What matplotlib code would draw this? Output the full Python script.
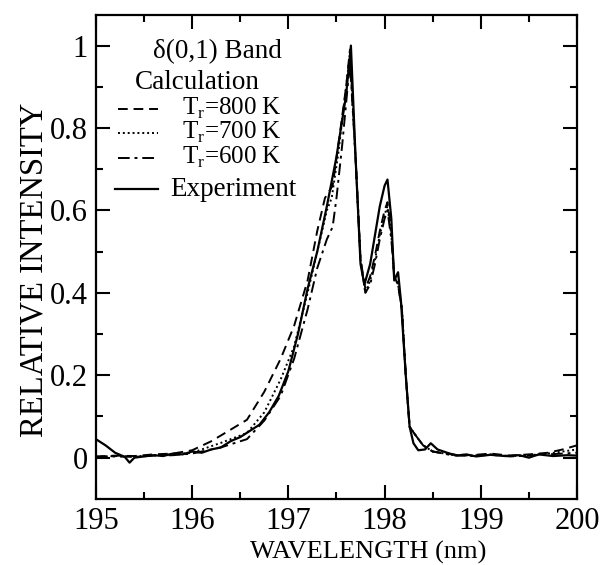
import numpy as np
import matplotlib.pyplot as plt
from matplotlib.lines import Line2D

plt.rcParams['font.family'] = ['Liberation Serif', 'DejaVu Serif']
plt.rcParams['mathtext.fontset'] = 'custom'
plt.rcParams['mathtext.rm'] = 'Liberation Serif'

# ---- experiment (solid) ----
wl_exp = [195.0, 195.1, 195.2, 195.3, 195.35, 195.4, 195.5, 195.6, 195.7, 195.8, 195.9,
          196.0, 196.1, 196.2, 196.3, 196.4, 196.5, 196.6, 196.7, 196.8, 196.9,
          197.0, 197.1, 197.2, 197.3, 197.4, 197.5, 197.6, 197.65, 197.7, 197.75,
          197.79, 197.85, 197.9, 197.95, 198.0, 198.03, 198.07, 198.1, 198.14, 198.17,
          198.22, 198.26, 198.3, 198.35, 198.42, 198.48, 198.55, 198.65, 198.75, 198.85,
          198.95, 199.1, 199.25, 199.4, 199.5, 199.6, 199.75, 199.9, 200.0]
int_exp = [0.045, 0.03, 0.012, 0.002, -0.012, 0.0, 0.003, 0.006, 0.004, 0.01, 0.008,
           0.015, 0.012, 0.02, 0.025, 0.04, 0.05, 0.065, 0.08, 0.11, 0.15,
           0.21, 0.30, 0.41, 0.50, 0.61, 0.73, 0.88, 1.0, 0.72, 0.47,
           0.42, 0.47, 0.54, 0.61, 0.66, 0.675, 0.58, 0.43, 0.45, 0.38,
           0.20, 0.075, 0.035, 0.018, 0.02, 0.035, 0.02, 0.012, 0.005, 0.008,
           0.003, 0.007, 0.004, 0.006, 0.0, 0.008, 0.004, 0.006, 0.005]

# ---- calculation, Tr = 800 K (dashed) ----
wl_800 = [195.0, 195.2, 195.4, 195.6, 195.8, 196.0, 196.2, 196.4, 196.57, 196.75, 196.92,
          197.06, 197.2, 197.3, 197.38, 197.42, 197.46, 197.52, 197.6, 197.64, 197.7,
          197.75, 197.8, 197.85, 197.9, 197.95, 198.0, 198.03, 198.07, 198.1, 198.14,
          198.18, 198.22, 198.26, 198.32, 198.4, 198.5, 198.7, 198.9, 199.1, 199.3,
          199.5, 199.7, 199.85, 200.0]
int_800 = [0.003, 0.005, 0.004, 0.008, 0.01, 0.018, 0.04, 0.068, 0.092, 0.16, 0.24,
           0.32, 0.43, 0.55, 0.63, 0.645, 0.66, 0.76, 0.90, 0.99, 0.72,
           0.48, 0.41, 0.44, 0.49, 0.55, 0.60, 0.62, 0.55, 0.44, 0.42,
           0.36, 0.20, 0.075, 0.055, 0.03, 0.015, 0.008, 0.006, 0.01, 0.005,
           0.008, 0.012, 0.02, 0.03]

# ---- calculation, Tr = 700 K (dotted) ----
wl_700 = [195.0, 195.2, 195.4, 195.6, 195.8, 196.0, 196.3, 196.57, 196.75, 196.92,
          197.06, 197.2, 197.3, 197.4, 197.45, 197.52, 197.6, 197.64, 197.7,
          197.75, 197.8, 197.85, 197.9, 197.95, 198.0, 198.03, 198.07, 198.1, 198.14,
          198.18, 198.22, 198.26, 198.32, 198.4, 198.5, 198.7, 198.9, 199.1, 199.3,
          199.5, 199.7, 199.85, 200.0]
int_700 = [0.002, 0.004, 0.003, 0.006, 0.008, 0.012, 0.036, 0.06, 0.11, 0.19,
           0.27, 0.40, 0.50, 0.60, 0.63, 0.74, 0.90, 0.98, 0.72,
           0.48, 0.40, 0.43, 0.48, 0.54, 0.59, 0.61, 0.54, 0.44, 0.42,
           0.36, 0.20, 0.075, 0.055, 0.03, 0.015, 0.007, 0.005, 0.008, 0.004,
           0.006, 0.01, 0.015, 0.02]

# ---- calculation, Tr = 600 K (dash-dot) ----
wl_600 = [195.0, 195.2, 195.4, 195.6, 195.8, 196.0, 196.3, 196.57, 196.75, 196.92,
          197.06, 197.2, 197.3, 197.4, 197.46, 197.5, 197.56, 197.6, 197.64, 197.7,
          197.75, 197.8, 197.85, 197.9, 197.95, 198.0, 198.03, 198.07, 198.1, 198.14,
          198.18, 198.22, 198.26, 198.32, 198.4, 198.5, 198.7, 198.9, 199.1, 199.3,
          199.5, 199.7, 199.85, 200.0]
int_600 = [0.002, 0.003, 0.002, 0.005, 0.006, 0.01, 0.025, 0.045, 0.09, 0.15,
           0.24, 0.36, 0.46, 0.53, 0.56, 0.63, 0.76, 0.86, 0.96, 0.72,
           0.48, 0.40, 0.42, 0.47, 0.53, 0.58, 0.60, 0.53, 0.44, 0.42,
           0.36, 0.20, 0.075, 0.055, 0.03, 0.015, 0.006, 0.004, 0.007, 0.003,
           0.005, 0.008, 0.01, 0.012]

fig = plt.figure(figsize=(6.03, 5.65), dpi=100)
ax = fig.add_axes([0.159, 0.117, 0.798, 0.857])

lw = 1.4
ax.plot(wl_800, int_800, color='black', lw=lw, ls=(0, (5, 3)))
ax.plot(wl_700, int_700, color='black', lw=lw, ls=(0, (1, 1.5)))
ax.plot(wl_600, int_600, color='black', lw=lw, ls=(0, (6, 2.5, 1.5, 2.5)))
ax.plot(wl_exp, int_exp, color='black', lw=lw + 0.2)

ax.set_xlim(195, 200)
ax.set_ylim(-0.1, 1.075)
ax.set_xticks([195, 196, 197, 198, 199, 200])
ax.set_xticks(np.arange(195.5, 200, 1.0), minor=True)
ax.set_yticks([0, 0.2, 0.4, 0.6, 0.8, 1])
ax.set_yticklabels(['0', '0.2', '0.4', '0.6', '0.8', '1'])
ax.set_yticks(np.arange(0.1, 1.0, 0.2), minor=True)
ax.tick_params(which='both', direction='in', top=True, right=True, width=1.5,
               labelsize=22, pad=6)
ax.tick_params(which='major', length=10)
ax.tick_params(which='minor', length=5)
for s in ax.spines.values():
    s.set_linewidth(1.6)

ax.set_xlabel('WAVELENGTH (nm)', fontsize=19)
ax.xaxis.set_label_coords(0.565, -0.086)
ax.set_ylabel('RELATIVE INTENSITY', fontsize=23.5)
ax.yaxis.set_label_coords(-0.096, 0.473)

# legend block
tr = ax.transAxes
fs = 19.5
ax.text(0.118, 0.924, 'δ(0,1) Band', transform=tr, fontsize=fs, va='center')
ax.text(0.081, 0.860, 'Calculation', transform=tr, fontsize=fs, va='center')
labels = ['T$_\\mathregular{r}$=800 K', 'T$_\\mathregular{r}$=700 K', 'T$_\\mathregular{r}$=600 K']
styles = [(0, (5, 3)), (0, (1, 1.5)), (0, (6, 2.5, 1.5, 2.5))]
for yy, lab, st in zip([0.806, 0.756, 0.705], labels, styles):
    ax.add_line(Line2D([0.046, 0.129], [yy, yy], transform=tr, color='black', lw=lw, ls=st))
    ax.text(0.179, yy, lab, transform=tr, fontsize=18, va='center')
ax.add_line(Line2D([0.04, 0.129], [0.64, 0.64], transform=tr, color='black', lw=lw + 0.2))
ax.text(0.154, 0.64, 'Experiment', transform=tr, fontsize=fs, va='center')

fig.savefig('out.png', dpi=100)
